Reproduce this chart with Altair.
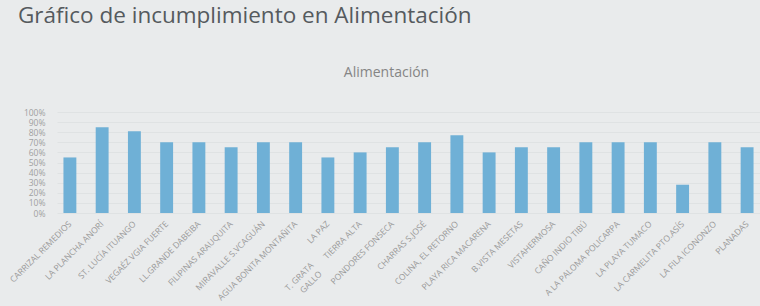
import altair as alt
import pandas as pd

categories = [
    "CARRIZAL REMEDIOS", "LA PLANCHA ANORÍ", "ST. LUCÍA ITUANGO", "VEGAÉZ VGIA FUERTE",
    "LL.GRANDE DABEIBA", "FILIPINAS ARAUQUITA", "MIRAVALLE S.VCAGUÁN", "AGUA BONITA MONTAÑITA",
    "LA PAZ", "TIERRA ALTA", "PONDORES FONSECA", "CHARRAS S.JOSÉ",
    "COLINA, EL RETORNO", "PLAYA RICA MACARENA", "B.VISTA MESETAS", "VISTAHERMOSA",
    "CAÑO INDIO TIBÚ", "A LA PALOMA POLICARPA", "LA PLAYA TUMACO", "LA CARMELITA PTO.ASÍS",
    "LA FILA ICONONZO", "PLANADAS",
]
values = [0.55, 0.85, 0.81, 0.70, 0.70, 0.65, 0.70, 0.70, 0.55, 0.60, 0.65, 0.70,
          0.77, 0.60, 0.65, 0.65, 0.70, 0.70, 0.70, 0.28, 0.70, 0.65]
y_ticks = [i / 10 for i in range(11)]
extra_label = "T. GRATA\nGALLO"
extra_label_at = "AGUA BONITA MONTAÑITA"

df = pd.DataFrame({"cat": categories, "val": values})
extra = pd.DataFrame({"cat": [extra_label_at], "txt": [extra_label]})

FONT = "Open Sans"
W, H = 703, 101

xscale = alt.Scale(domain=categories, paddingInner=0.6, paddingOuter=0.2)

bars = alt.Chart(df).mark_bar(color="#6fb0d6").encode(
    x=alt.X("cat:N", sort=categories, scale=xscale,
            axis=alt.Axis(title=None, labelAngle=-45, labelAlign="right", labelBaseline="middle",
                          labelPadding=9, ticks=False, domain=False, labelFontSize=8.5,
                          labelColor="#9a9a9a", labelFont=FONT, labelOverlap=False, labelLimit=200)),
    y=alt.Y("val:Q", scale=alt.Scale(domain=[0, 1]),
            axis=alt.Axis(title=None, values=y_ticks, format=".0%", ticks=False, domain=False,
                          labelPadding=12, labelFontSize=8.5, labelColor="#a0a0a0", labelFont=FONT,
                          gridColor="#dcdfe1", gridWidth=0.8)),
)

extra_text = alt.Chart(extra).mark_text(
    angle=315, align="right", baseline="middle", lineBreak="\n", font=FONT, fontSize=8.5,
    color="#9a9a9a", dx=8, dy=15, lineHeight=12,
).encode(
    x=alt.X("cat:N", sort=categories, scale=xscale),
    y=alt.value(H + 46),
    text="txt:N",
)

sub_title = alt.Chart(extra).mark_text(
    font=FONT, fontSize=14, color="#858585", align="center", baseline="alphabetic",
).encode(x=alt.value(W / 2 - 22), y=alt.value(-35), text=alt.value("Alimentación"))

heading = alt.Chart(extra).mark_text(
    font=FONT, fontSize=22.5, color="#555a5e", align="left", baseline="alphabetic",
).encode(x=alt.value(-39), y=alt.value(-89),
         text=alt.value("Gráfico de incumplimiento en Alimentación"))

chart = alt.layer(bars, extra_text, sub_title, heading).properties(
    width=W, height=H,
    autosize=alt.AutoSizeParams(type="none"),
    padding={"left": 57, "top": 112, "right": 0, "bottom": 93},
    background="#e9ebec",
).configure_view(stroke=None)

chart.save("out.html", embed_options={"renderer": "svg", "actions": False})
